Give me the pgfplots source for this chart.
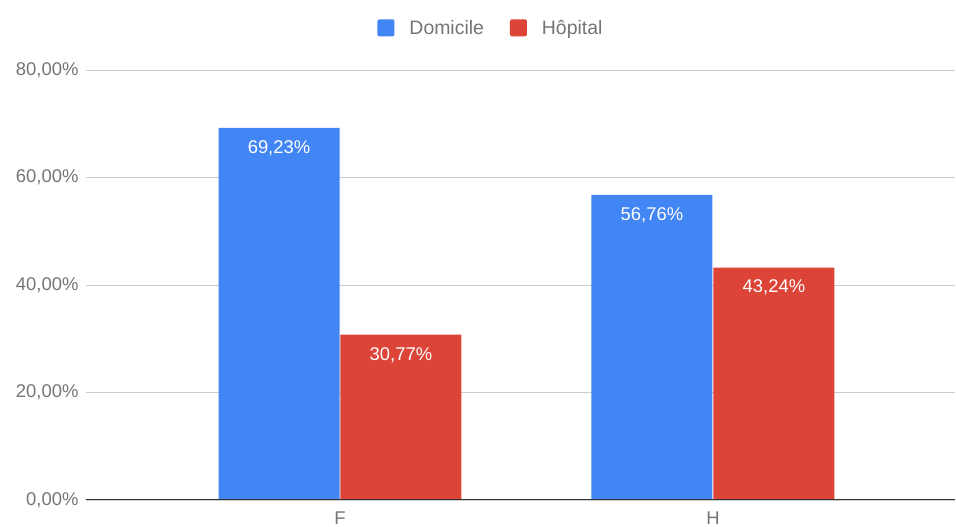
\documentclass[border=0pt]{standalone}
\usepackage{pgfplots}
\pgfplotsset{compat=1.18}
\usepackage{fontspec}
\setmainfont{Liberation Sans}
\definecolor{gblue}{HTML}{4285F4}
\definecolor{gred}{HTML}{DB4437}
\definecolor{gtext}{HTML}{757575}
\definecolor{ggrid}{HTML}{CCCCCC}
\definecolor{gaxis}{HTML}{333333}
\begin{document}
\begin{tikzpicture}
\useasboundingbox (-86bp,-27bp) rectangle (870bp,500bp);
\begin{axis}[
  at={(0,0)}, anchor=south west,
  width=869bp, height=430bp, scale only axis,
  xmin=-0.681, xmax=1.649,
  ymin=0, ymax=80,
  xtick={0,1}, xticklabels={F,H},
  ytick={0,20,40,60,80},
  yticklabels={{0,00\%},{20,00\%},{40,00\%},{60,00\%},{80,00\%}},
  ymajorgrids, grid style={ggrid, line width=0.8bp},
  axis line style={draw=none},
  major tick length=0pt,
  tick label style={font=\fontsize{18.5}{20}\selectfont, text=gtext},
  yticklabel style={xshift=-4bp},
  xticklabel style={yshift=-8bp},
  ybar, bar width=0.3244,
  point meta=explicit symbolic,
  nodes near coords,
  nodes near coords style={anchor=north, yshift=-9bp, text=white, font=\fontsize{18.5}{20}\selectfont},
  legend style={at={(0.466,1.098)}, anchor=center, draw=none, legend columns=-1,
    font=\fontsize{19.5}{21}\selectfont, text=gtext,
    /tikz/every odd column/.append style={column sep=13bp},
    /tikz/every even column/.append style={column sep=24bp}},
  legend image code/.code={\fill[#1, rounded corners=1.5bp] (0bp,-8.5bp) rectangle (17bp,8.5bp);},
]
\addplot[fill=gblue, draw=none, bar shift=-0.1635] coordinates {(0,69.23) [69,23\%] (1,56.76) [56,76\%]};
\addplot[fill=gred, draw=none, bar shift=0.1635] coordinates {(0,30.77) [30,77\%] (1,43.24) [43,24\%]};
\legend{Domicile, Hôpital}
\draw[gaxis, line width=1.2bp] (rel axis cs:0,0) -- (rel axis cs:1,0);
\end{axis}
\end{tikzpicture}
\end{document}
